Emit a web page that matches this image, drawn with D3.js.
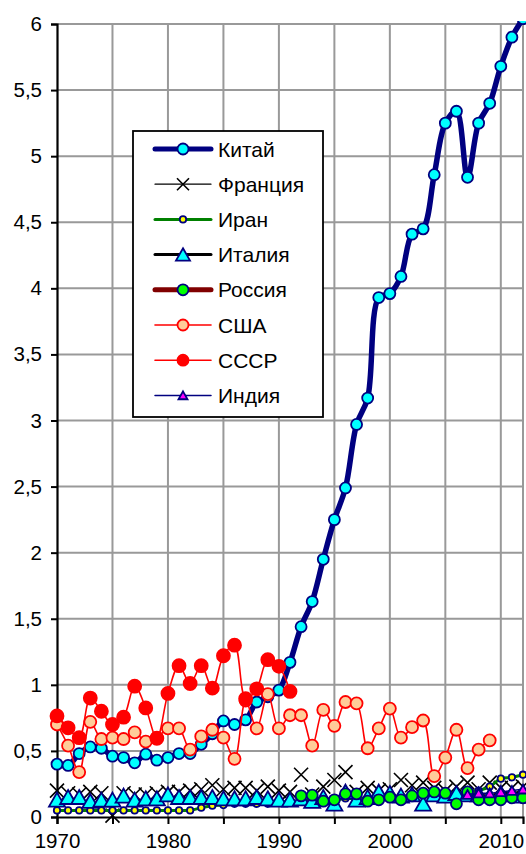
<!DOCTYPE html>
<html>
<head>
<meta charset="utf-8">
<script src="https://cdn.jsdelivr.net/npm/d3@7"></script>
<style>
  body { margin: 0; background: #fff; }
  svg { display: block; font-family: "Liberation Sans", Arial, sans-serif; }
</style>
</head>
<body>
<svg id="chart"></svg>
<script>
// values
var china = [0.40,0.39,0.48,0.53,0.52,0.46,0.45,0.41,0.475,0.43,0.45,0.48,0.48,0.55,0.63,0.727,0.70,0.735,0.87,0.91,0.96,1.17,1.44,1.63,1.95,2.25,2.49,2.97,3.17,3.93,3.96,4.09,4.41,4.45,4.86,5.25,5.34,4.84,5.25,5.40,5.68,5.90,6.04];
var france = [0.20,0.18,0.17,0.19,0.18,0.01,0.18,0.17,0.17,0.18,0.19,0.19,0.20,0.21,0.24,0.21,0.22,0.22,0.20,0.23,0.20,0.19,0.32,0.17,0.23,0.28,0.34,0.19,0.22,0.20,0.21,0.28,0.24,0.26,0.22,0.20,0.23,0.26,0.21,0.26,0.22,0.22,0.23];
var iran = [0.05,0.05,0.05,0.05,0.05,0.05,0.05,0.05,0.05,0.05,0.05,0.05,0.05,0.07,0.085,0.09,0.10,0.10,0.10,0.10,0.11,0.12,0.12,0.13,0.13,0.13,0.14,0.14,0.14,0.15,0.15,0.16,0.16,0.17,0.17,0.18,0.18,0.19,0.20,0.23,0.29,0.30,0.32];
var italy = [0.13,0.15,0.15,0.12,0.13,0.13,0.16,0.13,0.14,0.14,0.17,0.15,0.15,0.15,0.15,0.14,0.14,0.14,0.15,0.14,0.13,0.13,0.14,0.12,0.15,0.10,0.19,0.13,0.15,0.19,0.18,0.16,0.17,0.10,0.17,0.16,0.18,0.17,0.17,0.16,0.18,0.17,0.16];
var russia = [0.16,0.165,0.12,0.13,0.175,0.175,0.12,0.13,0.15,0.13,0.16,0.18,0.19,0.18,0.10,0.19,0.13,0.13,0.13,0.145,0.145]; // 1992-2012
var usa = [0.70,0.54,0.34,0.72,0.59,0.60,0.59,0.64,0.57,0.60,0.67,0.67,0.51,0.61,0.66,0.60,0.44,0.88,0.67,0.93,0.67,0.77,0.77,0.54,0.81,0.69,0.87,0.86,0.52,0.67,0.82,0.60,0.68,0.73,0.31,0.45,0.66,0.37,0.51,0.58]; // 1970-2009
var ussr = [0.765,0.675,0.60,0.90,0.80,0.70,0.755,0.99,0.825,0.595,0.935,1.145,1.01,1.145,0.975,1.22,1.30,0.895,0.97,1.19,1.14,0.95]; // 1970-1991
var india = [0.17,0.18,0.18,0.19,0.20,0.21]; // 2007-2012

var yTicks = [0,0.5,1,1.5,2,2.5,3,3.5,4,4.5,5,5.5,6];
var xTicks = [1970,1975,1980,1985,1990,1995,2000,2005,2010];
var xLabels = [1970,1980,1990,2000,2010];

function pairs(start, vals) {
  return vals.map(function(v, i) { return {year: start + i, value: v}; });
}

var series = [
  {name: "Китай",   data: pairs(1970, china),  line: "#000080", lw: 5.5, showLine: true,  marker: "circle", r: 5.5, fill: "#00ffff", stroke: "#000080", legLw: 5},
  {name: "Франция", data: pairs(1970, france), line: "#000000", lw: 1,   showLine: false, marker: "x",      r: 7,   fill: "none",    stroke: "#000000", legLw: 1.2},
  {name: "Иран",    data: pairs(1970, iran),   line: "#008000", lw: 3,   showLine: true,  marker: "circle", r: 3.2, fill: "#ffff00", stroke: "#000080", legLw: 3},
  {name: "Италия",  data: pairs(1970, italy),  line: "#000000", lw: 3,   showLine: false, marker: "tri",    r: 8,   fill: "#00ffff", stroke: "#000080", legLw: 3},
  {name: "Россия",  data: pairs(1992, russia), line: "#800000", lw: 5,   showLine: false, marker: "circle", r: 5.5, fill: "#00ff00", stroke: "#000080", legLw: 5},
  {name: "США",     data: pairs(1970, usa),    line: "#ff0000", lw: 1.6, showLine: true,  marker: "circle", r: 6,   fill: "#ffcc99", stroke: "#ff0000", legLw: 1.6},
  {name: "СССР",    data: pairs(1970, ussr),   line: "#ff0000", lw: 1.6, showLine: true,  marker: "circle", r: 6.5, fill: "#ff0000", stroke: "#ff0000", legLw: 1.6},
  {name: "Индия",   data: pairs(2007, india),  line: "#000080", lw: 1.5, showLine: true,  marker: "tri",    r: 5,   fill: "#ff00ff", stroke: "#000080", legLw: 1.5}
];

var width = 526, height = 854;
var svg = d3.select("#chart").attr("width", width).attr("height", height);

var x = d3.scaleLinear().domain([1970, 2012]).range([57, 523]);
var y = d3.scaleLinear().domain([0, 6]).range([817, 24]);

// grid
svg.append("g").selectAll("line")
  .data(yTicks.filter(function(d){ return d > 0; }))
  .enter().append("line")
  .attr("x1", x(1970)).attr("x2", x(2012))
  .attr("y1", function(d){ return y(d); }).attr("y2", function(d){ return y(d); })
  .attr("stroke", "#999").attr("stroke-width", 2);

svg.append("g").selectAll("line")
  .data(xTicks.filter(function(d){ return d > 1970; }).concat([2012]))
  .enter().append("line")
  .attr("x1", function(d){ return x(d); }).attr("x2", function(d){ return x(d); })
  .attr("y1", y(0)).attr("y2", y(6))
  .attr("stroke", "#999").attr("stroke-width", 2);

// axes
var xAxis = d3.axisBottom(x).tickValues(xTicks).tickSize(7).tickPadding(9)
  .tickFormat(function(d){ return xLabels.indexOf(d) >= 0 ? d : ""; });
var yAxis = d3.axisLeft(y).tickValues(yTicks).tickSize(6).tickPadding(9)
  .tickFormat(function(d){ return String(d).replace(".", ","); });

var gx = svg.append("g").attr("transform", "translate(0," + y(0) + ")").call(xAxis);
var gy = svg.append("g").attr("transform", "translate(" + x(1970) + ",0)").call(yAxis);
[gx, gy].forEach(function(g) {
  g.select(".domain").attr("stroke", "#000").attr("stroke-width", 2.2);
  g.selectAll(".tick line").attr("stroke", "#000").attr("stroke-width", 2);
  g.selectAll("text").attr("font-size", 20.5).attr("fill", "#000")
    .attr("font-family", "'Liberation Sans', Arial, sans-serif");
});

svg.append("clipPath").attr("id", "plot")
  .append("rect").attr("x", x(1970) - 10).attr("y", 21).attr("width", x(2012) - x(1970) + 20).attr("height", 810);

var plot = svg.append("g").attr("clip-path", "url(#plot)");

function drawMarker(sel, s, px, py) {
  if (s.marker === "circle") {
    sel.append("circle").attr("cx", px).attr("cy", py).attr("r", s.r)
      .attr("fill", s.fill).attr("stroke", s.stroke).attr("stroke-width", 1.8);
  } else if (s.marker === "tri") {
    var r = s.r;
    sel.append("path")
      .attr("d", "M" + px + "," + (py - r * 0.9) + "L" + (px + r) + "," + (py + r * 0.85) + "L" + (px - r) + "," + (py + r * 0.85) + "Z")
      .attr("fill", s.fill).attr("stroke", s.stroke).attr("stroke-width", 1.8);
  } else if (s.marker === "x") {
    var h = s.r;
    sel.append("path")
      .attr("d", "M" + (px - h) + "," + (py - h) + "L" + (px + h) + "," + (py + h) + "M" + (px - h) + "," + (py + h) + "L" + (px + h) + "," + (py - h))
      .attr("stroke", "#000").attr("stroke-width", 1.6).attr("fill", "none");
  }
}

var line = d3.line()
  .x(function(d){ return x(d.year); })
  .y(function(d){ return y(d.value); })
  .curve(d3.curveCatmullRom.alpha(0.5));

series.forEach(function(s) {
  var g = plot.append("g");
  if (s.showLine) {
    g.append("path").datum(s.data).attr("d", line)
      .attr("fill", "none").attr("stroke", s.line).attr("stroke-width", s.lw)
      .attr("stroke-linejoin", "round").attr("stroke-linecap", "round");
  }
  s.data.forEach(function(d) {
    drawMarker(g, s, x(d.year), y(d.value));
  });
});

// legend
var leg = svg.append("g");
leg.append("rect").attr("x", 133).attr("y", 131).attr("width", 190).attr("height", 286)
  .attr("fill", "#fff").attr("stroke", "#000").attr("stroke-width", 1.8);

series.forEach(function(s, i) {
  var ly = 149 + i * 35.2;
  leg.append("line").attr("x1", 155).attr("x2", 211).attr("y1", ly).attr("y2", ly)
    .attr("stroke", s.line).attr("stroke-width", s.legLw).attr("stroke-linecap", "round");
  var ms = Object.assign({}, s, {r: s.marker === "tri" ? (s.name === "Италия" ? 7 : 4.5) : (s.marker === "x" ? 6 : Math.min(s.r, 5.5))});
  drawMarker(leg, ms, 183, ly);
  leg.append("text").attr("x", 218).attr("y", ly + 7.5).attr("font-size", 21).text(s.name);
});
</script>
</body>
</html>
